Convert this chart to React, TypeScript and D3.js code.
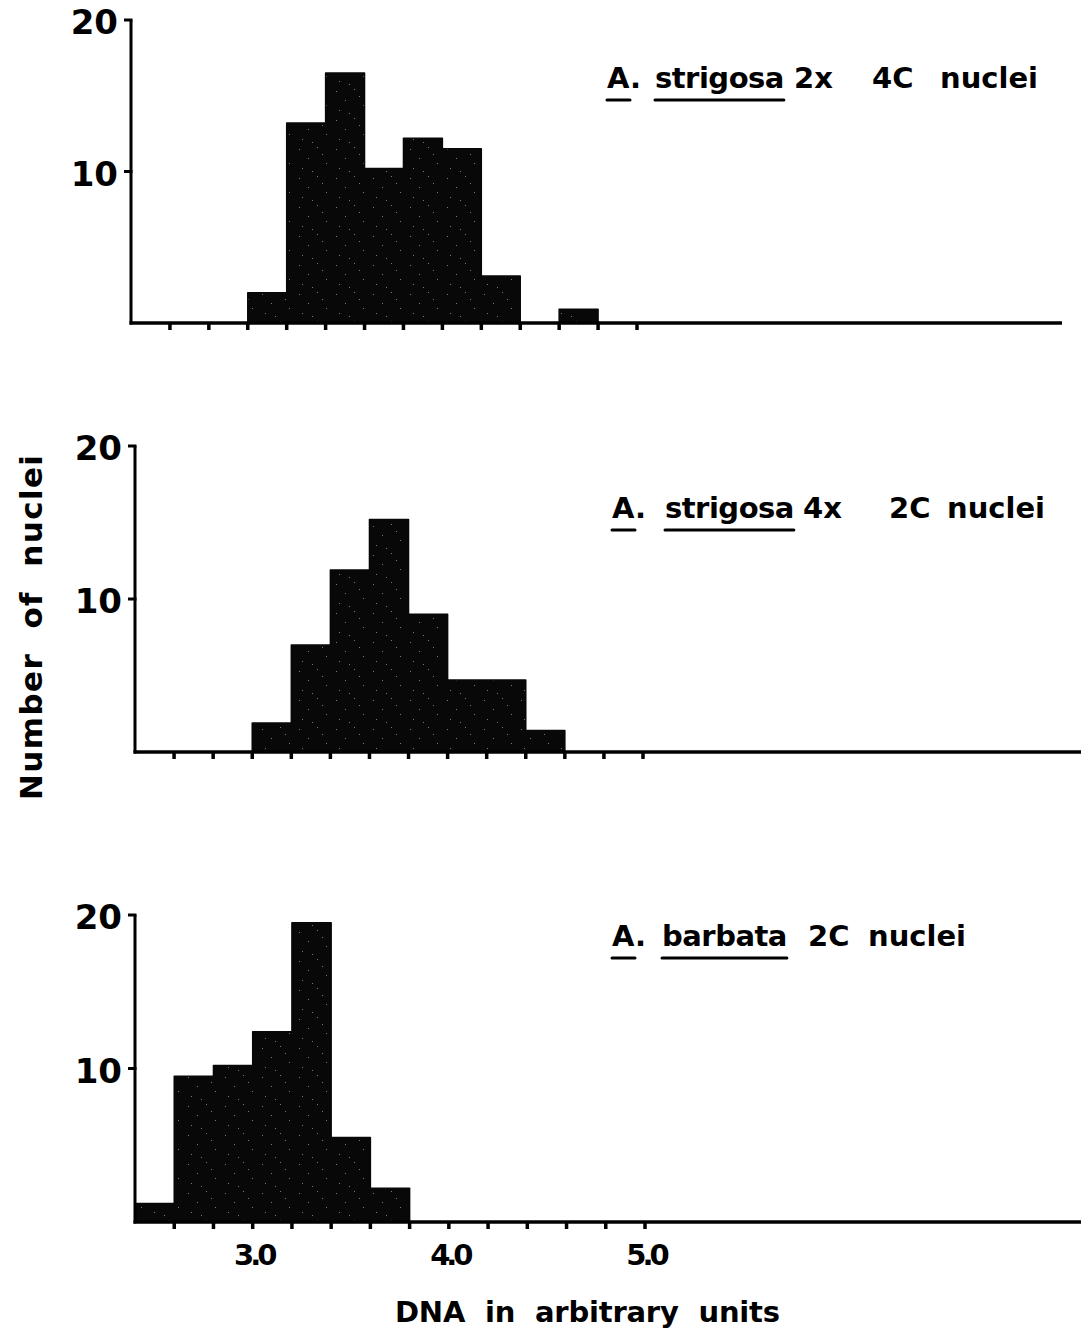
import React, { useEffect, useRef } from "react";
import * as d3 from "d3";

// ---- data ----
const ticksX = [2.6, 2.8, 3.0, 3.2, 3.4, 3.6, 3.8, 4.0, 4.2, 4.4, 4.6, 4.8, 5.0];
const tickLabelsX = ["3.0", "4.0", "5.0"];
const tickValuesLabeled = [3.0, 4.0, 5.0];
const ticksY = [10, 20];
const binWidth = 0.2;

const strigosa2xBins = [3.0, 3.2, 3.4, 3.6, 3.8, 4.0, 4.2, 4.4, 4.6];
const strigosa2xCounts = [2.0, 13.2, 16.5, 10.2, 12.2, 11.5, 3.1, 0, 0.9];

const strigosa4xBins = [3.0, 3.2, 3.4, 3.6, 3.8, 4.0, 4.2, 4.4];
const strigosa4xCounts = [1.9, 7.0, 11.9, 15.2, 9.0, 4.7, 4.7, 1.4];

const barbataBins = [2.4, 2.6, 2.8, 3.0, 3.2, 3.4, 3.6];
const barbataCounts = [1.2, 9.5, 10.2, 12.4, 19.5, 5.5, 2.2];

// title words; the first two are underlined
const panelTitles = [
  ["A.", "strigosa", "2x", "4C", "nuclei"],
  ["A.", "strigosa", "4x", "2C", "nuclei"],
  ["A.", "barbata", "2C", "nuclei"],
];

const FONT = "'DejaVu Sans', Lato, sans-serif";

export default function App() {
  const ref = useRef<SVGSVGElement | null>(null);

  useEffect(() => {
    const svg = d3.select(ref.current);
    svg.selectAll("*").remove();

    const defs = svg.append("defs");
    const pat = defs
      .append("pattern")
      .attr("id", "speckle")
      .attr("width", 37)
      .attr("height", 29)
      .attr("patternUnits", "userSpaceOnUse");
    pat.append("rect").attr("width", 37).attr("height", 29).attr("fill", "#080808");
    const dots = [
      [3, 4], [21, 2], [12, 13], [30, 18], [6, 23], [26, 9], [16, 26],
    ];
    dots.forEach(([cx, cy]) =>
      pat.append("rect").attr("x", cx).attr("y", cy).attr("width", 1).attr("height", 1).attr("fill", "#777")
    );

    const panels = [
      { bins: strigosa2xBins, counts: strigosa2xCounts, x0: 131, x1: 637, yb: 323, yt: 20, axisEnd: 1062, titleY: 88, wordX: [607, 655, 794, 872, 940], showLabels: false },
      { bins: strigosa4xBins, counts: strigosa4xCounts, x0: 135, x1: 643, yb: 752, yt: 446, axisEnd: 1081, titleY: 518, wordX: [612, 665, 803, 889, 947], showLabels: false },
      { bins: barbataBins, counts: barbataCounts, x0: 135, x1: 645, yb: 1222, yt: 915, axisEnd: 1081, titleY: 946, wordX: [612, 662, 808, 868], showLabels: true },
    ];

    panels.forEach((p, i) => {
      const x = d3.scaleLinear().domain([2.4, 5.0]).range([p.x0, p.x1]);
      const y = d3.scaleLinear().domain([0, 20]).range([p.yb, p.yt]);
      const g = svg.append("g");

      // histogram as one stepped shape
      const pts = p.bins.map((b, j) => ({ b, c: p.counts[j] }));
      const last = pts[pts.length - 1];
      pts.push({ b: last.b + binWidth, c: 0 });
      const area = d3
        .area<{ b: number; c: number }>()
        .x((d) => x(d.b))
        .y0(y(0))
        .y1((d) => y(d.c))
        .curve(d3.curveStepAfter);
      g.append("path")
        .attr("d", area(pts) as string)
        .attr("fill", "url(#speckle)")
        .attr("stroke", "#080808")
        .attr("stroke-width", 1.5)
        .attr("stroke-linejoin", "round");

      // x axis line
      g.append("line")
        .attr("x1", x(2.4) - 1.5)
        .attr("x2", p.axisEnd)
        .attr("y1", y(0))
        .attr("y2", y(0))
        .attr("stroke", "#000")
        .attr("stroke-width", 3.5);

      // x ticks
      g.selectAll("line.xt")
        .data(ticksX)
        .join("line")
        .attr("class", "xt")
        .attr("x1", (d) => x(d))
        .attr("x2", (d) => x(d))
        .attr("y1", y(0))
        .attr("y2", y(0) + 7)
        .attr("stroke", "#000")
        .attr("stroke-width", 3.5);

      // y axis
      g.append("line")
        .attr("x1", x(2.4))
        .attr("x2", x(2.4))
        .attr("y1", y(0) + 1.5)
        .attr("y2", y(20))
        .attr("stroke", "#000")
        .attr("stroke-width", 3);

      g.selectAll("line.yt")
        .data(ticksY)
        .join("line")
        .attr("class", "yt")
        .attr("x1", x(2.4) - 7)
        .attr("x2", x(2.4) + 1.5)
        .attr("y1", (d) => y(d))
        .attr("y2", (d) => y(d))
        .attr("stroke", "#000")
        .attr("stroke-width", 3);

      g.selectAll("text.yl")
        .data(ticksY)
        .join("text")
        .attr("class", "yl")
        .attr("x", x(2.4) - 13)
        .attr("y", (d) => y(d) + 2)
        .attr("dy", "0.36em")
        .attr("text-anchor", "end")
        .attr("font-family", FONT)
        .attr("font-size", 34)
        .attr("font-weight", 700)
        .text((d) => String(d));

      if (p.showLabels) {
        g.selectAll("text.xl")
          .data(tickValuesLabeled)
          .join("text")
          .attr("class", "xl")
          .attr("x", (d) => x(d) + 1)
          .attr("y", y(0) + 43)
          .attr("text-anchor", "middle")
          .attr("font-family", FONT)
          .attr("font-size", 29)
          .attr("font-weight", 700)
          .attr("letter-spacing", -4)
          .text((d, k) => tickLabelsX[k]);
      }

      // title words with underlines under the first two
      const words = panelTitles[i];
      words.forEach((w, k) => {
        const t = g
          .append("text")
          .attr("x", p.wordX[k])
          .attr("y", p.titleY)
          .attr("font-family", FONT)
          .attr("font-size", 29)
          .attr("font-weight", 700)
          .attr("letter-spacing", k === 1 ? -0.5 : 0)
          .text(w);
        if (k < 2) {
          const tn = t.node() as SVGTextElement;
          const n = k === 0 ? 1 : w.length;
          const u0 = tn.getStartPositionOfChar(0).x;
          const u1 = tn.getEndPositionOfChar(n - 1).x;
          g.append("line")
            .attr("x1", u0)
            .attr("x2", u1)
            .attr("y1", p.titleY + 12)
            .attr("y2", p.titleY + 12)
            .attr("stroke", "#000")
            .attr("stroke-width", 3)
            .attr("stroke-linecap", "round");
        }
      });
    });

    svg.append("text")
      .attr("x", 395)
      .attr("y", 1322)
      .attr("font-family", FONT)
      .attr("font-size", 29)
      .attr("font-weight", 700)
      .attr("xml:space", "preserve")
      .attr("textLength", 385)
      .attr("lengthAdjust", "spacing")
      .text("DNA  in  arbitrary  units");

    svg.append("text")
      .attr("transform", "translate(42,800) rotate(-90)")
      .attr("font-family", FONT)
      .attr("font-size", 31)
      .attr("font-weight", 700)
      .attr("xml:space", "preserve")
      .attr("textLength", 345)
      .attr("lengthAdjust", "spacing")
      .text("Number  of  nuclei");
  }, []);

  return (
    <svg
      ref={ref}
      width={1081}
      height={1336}
      style={{ position: "absolute", left: 0, top: 0, background: "#fff" }}
    />
  );
}
